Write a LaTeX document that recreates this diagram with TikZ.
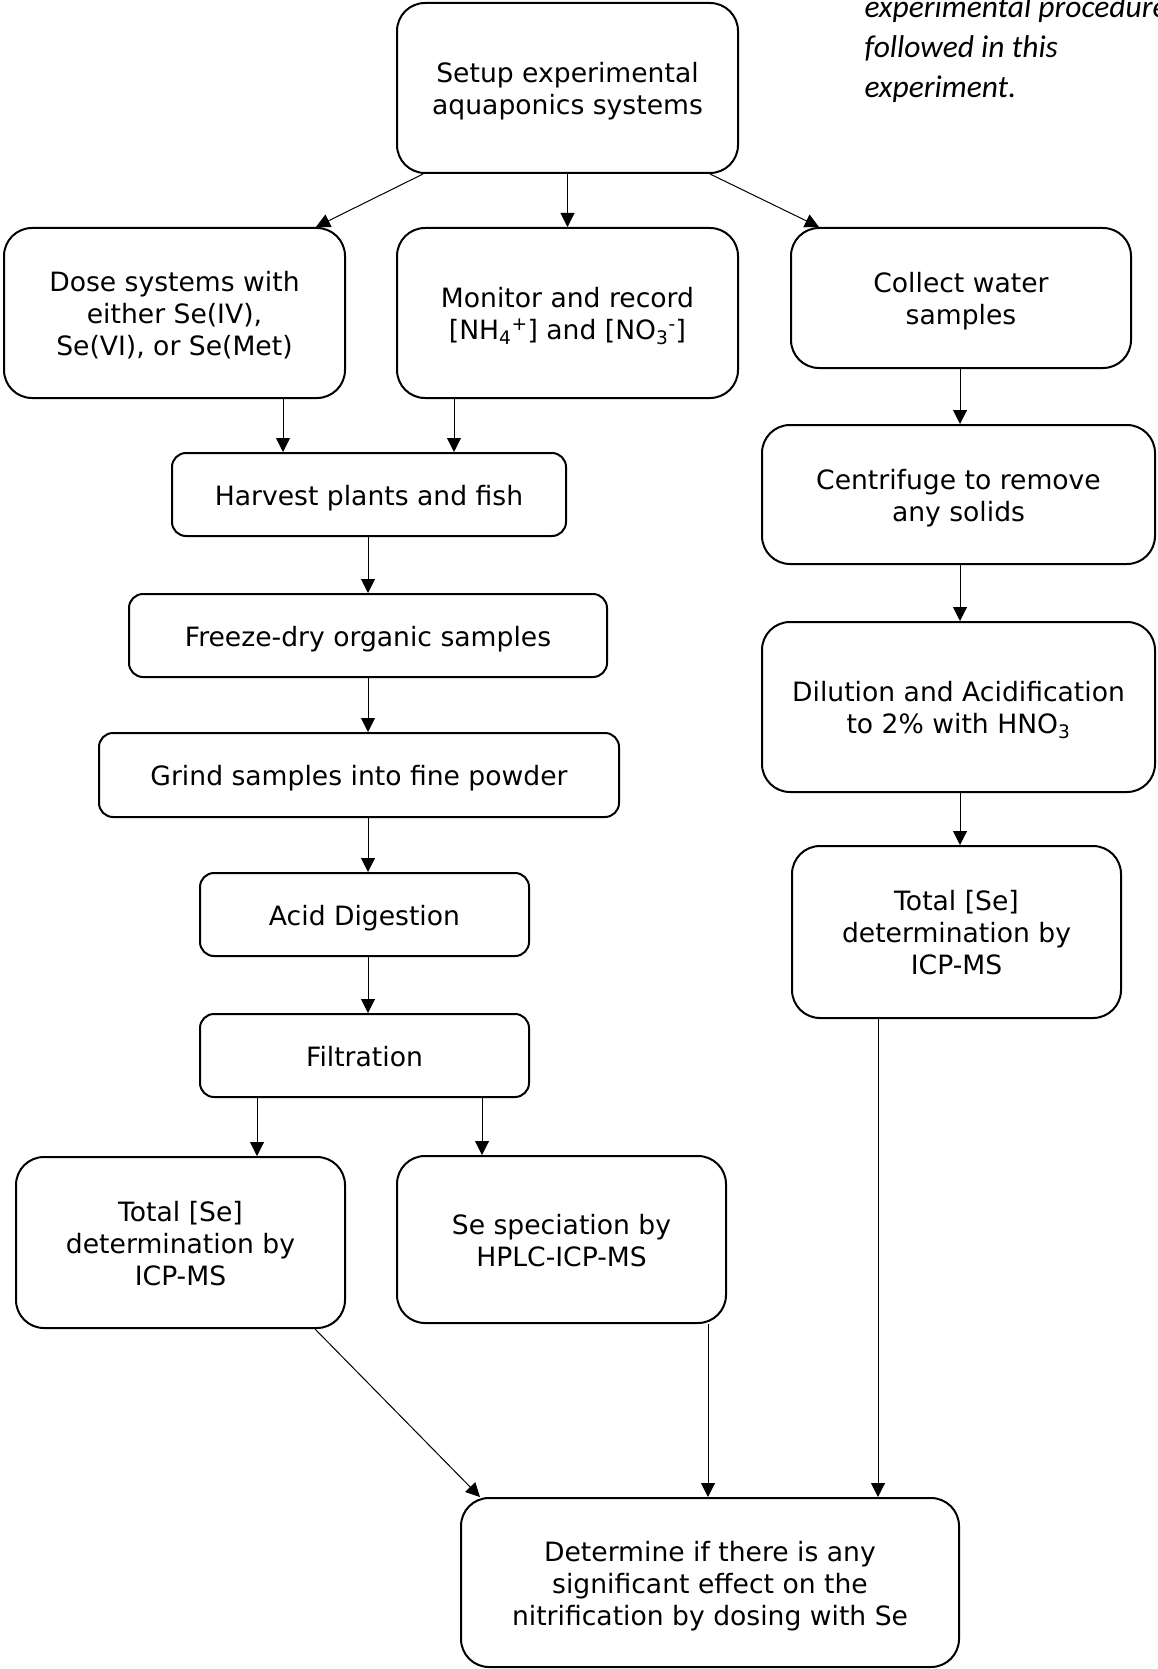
\documentclass[tikz,border=0pt]{standalone}
\usepackage{fontspec}
\setmainfont{DejaVu Sans}
\newfontfamily\notefont{Carlito}
\usetikzlibrary{arrows.meta}
\newcommand\tstrut{\rule{0pt}{26.7pt}}
\newcommand\bstrut{\rule[-5.6pt]{0pt}{5.6pt}}
\begin{document}
\begin{tikzpicture}[x=1pt,y=-1pt,>={Triangle[length=14pt,width=14pt]},
	font=\fontsize{26.6}{32}\selectfont,
	box/.style={draw,line width=2pt,rounded corners=28pt,align=center,inner sep=0pt},
	flat/.style={box,rounded corners=14pt},
	arr/.style={->,line width=1pt}]
	\useasboundingbox (0,0) rectangle (1157,1669);
	% note at the top right
	\node[anchor=base west,align=left,font=\notefont\itshape\fontsize{31.5}{40}\selectfont] (note) at (861,98) {experimental procedure\\followed in this\\experiment.};
	% boxes
	\node[box,minimum width=341pt,minimum height=170pt] (setup) at (567.5,88) {\tstrut Setup experimental\\aquaponics systems\bstrut};
	\node[box,minimum width=341pt,minimum height=170pt] (dose) at (174.5,313) {\tstrut Dose systems with\\either Se(IV),\\Se(VI), or Se(Met)\bstrut};
	\node[box,minimum width=341pt,minimum height=170pt] (monitor) at (567.5,313) {\tstrut Monitor and record\\{[NH\textsubscript{4}\textsuperscript{+}] and [NO\textsubscript{3}\textsuperscript{-}]}\bstrut};
	\node[box,minimum width=340pt,minimum height=140pt] (collect) at (961,298) {\tstrut Collect water\\samples\bstrut};
	\node[flat,minimum width=394pt,minimum height=83pt] (harvest) at (369,494.5) {\tstrut Harvest plants and fish\bstrut};
	\node[flat,minimum width=478pt,minimum height=83pt] (freeze) at (368,635.5) {\tstrut Freeze-dry organic samples\bstrut};
	\node[flat,minimum width=520pt,minimum height=84pt] (grind) at (359,775) {\tstrut Grind samples into fine powder\bstrut};
	\node[flat,minimum width=329pt,minimum height=83pt] (acid) at (364.5,914.5) {\tstrut Acid Digestion\bstrut};
	\node[flat,minimum width=329pt,minimum height=83pt] (filt) at (364.5,1055.5) {\tstrut Filtration\bstrut};
	\node[box,minimum width=329pt,minimum height=171pt] (totalL) at (180.5,1242.5) {\tstrut Total [Se]\\determination by\\ICP-MS\bstrut};
	\node[box,minimum width=329pt,minimum height=167pt] (spec) at (561.5,1239.5) {\tstrut Se speciation by\\HPLC-ICP-MS\bstrut};
	\node[box,minimum width=393pt,minimum height=139pt] (centri) at (958.5,494.5) {\tstrut Centrifuge to remove\\any solids\bstrut};
	\node[box,minimum width=393pt,minimum height=170pt] (dilut) at (958.5,707) {\tstrut Dilution and Acidification\\to 2\% with HNO\textsubscript{3}\bstrut};
	\node[box,minimum width=329pt,minimum height=172pt] (totalR) at (956.5,932) {\tstrut Total [Se]\\determination by\\ICP-MS\bstrut};
	\node[box,minimum width=498pt,minimum height=169pt] (determ) at (710,1582.5) {\tstrut Determine if there is any\\significant effect on the\\nitrification by dosing with Se\bstrut};
	% arrows
	\draw[arr] (setup.south -| 423,0) -- (dose.north -| 316,0);
	\draw[arr] (setup) -- (monitor);
	\draw[arr] (setup.south -| 710,0) -- (collect.north -| 819,0);
	\draw[arr] (dose.south -| 283,0) -- (harvest.north -| 283,0);
	\draw[arr] (monitor.south -| 454,0) -- (harvest.north -| 454,0);
	\draw[arr] (harvest.south -| 368,0) -- (freeze.north -| 368,0);
	\draw[arr] (freeze.south -| 368,0) -- (grind.north -| 368,0);
	\draw[arr] (grind.south -| 368,0) -- (acid.north -| 368,0);
	\draw[arr] (acid.south -| 368,0) -- (filt.north -| 368,0);
	\draw[arr] (filt.south -| 257,0) -- (totalL.north -| 257,0);
	\draw[arr] (filt.south -| 482,0) -- (spec.north -| 482,0);
	\draw[arr] (collect.south -| 960,0) -- (centri.north -| 960,0);
	\draw[arr] (centri.south -| 960,0) -- (dilut.north -| 960,0);
	\draw[arr] (dilut.south -| 960,0) -- (totalR.north -| 960,0);
	\draw[arr] (totalL.south -| 315,0) -- (determ.north -| 480,0);
	\draw[arr] (spec.south -| 708,0) -- (determ.north -| 708,0);
	\draw[arr] (totalR.south -| 878,0) -- (determ.north -| 878,0);
\end{tikzpicture}
\end{document}
